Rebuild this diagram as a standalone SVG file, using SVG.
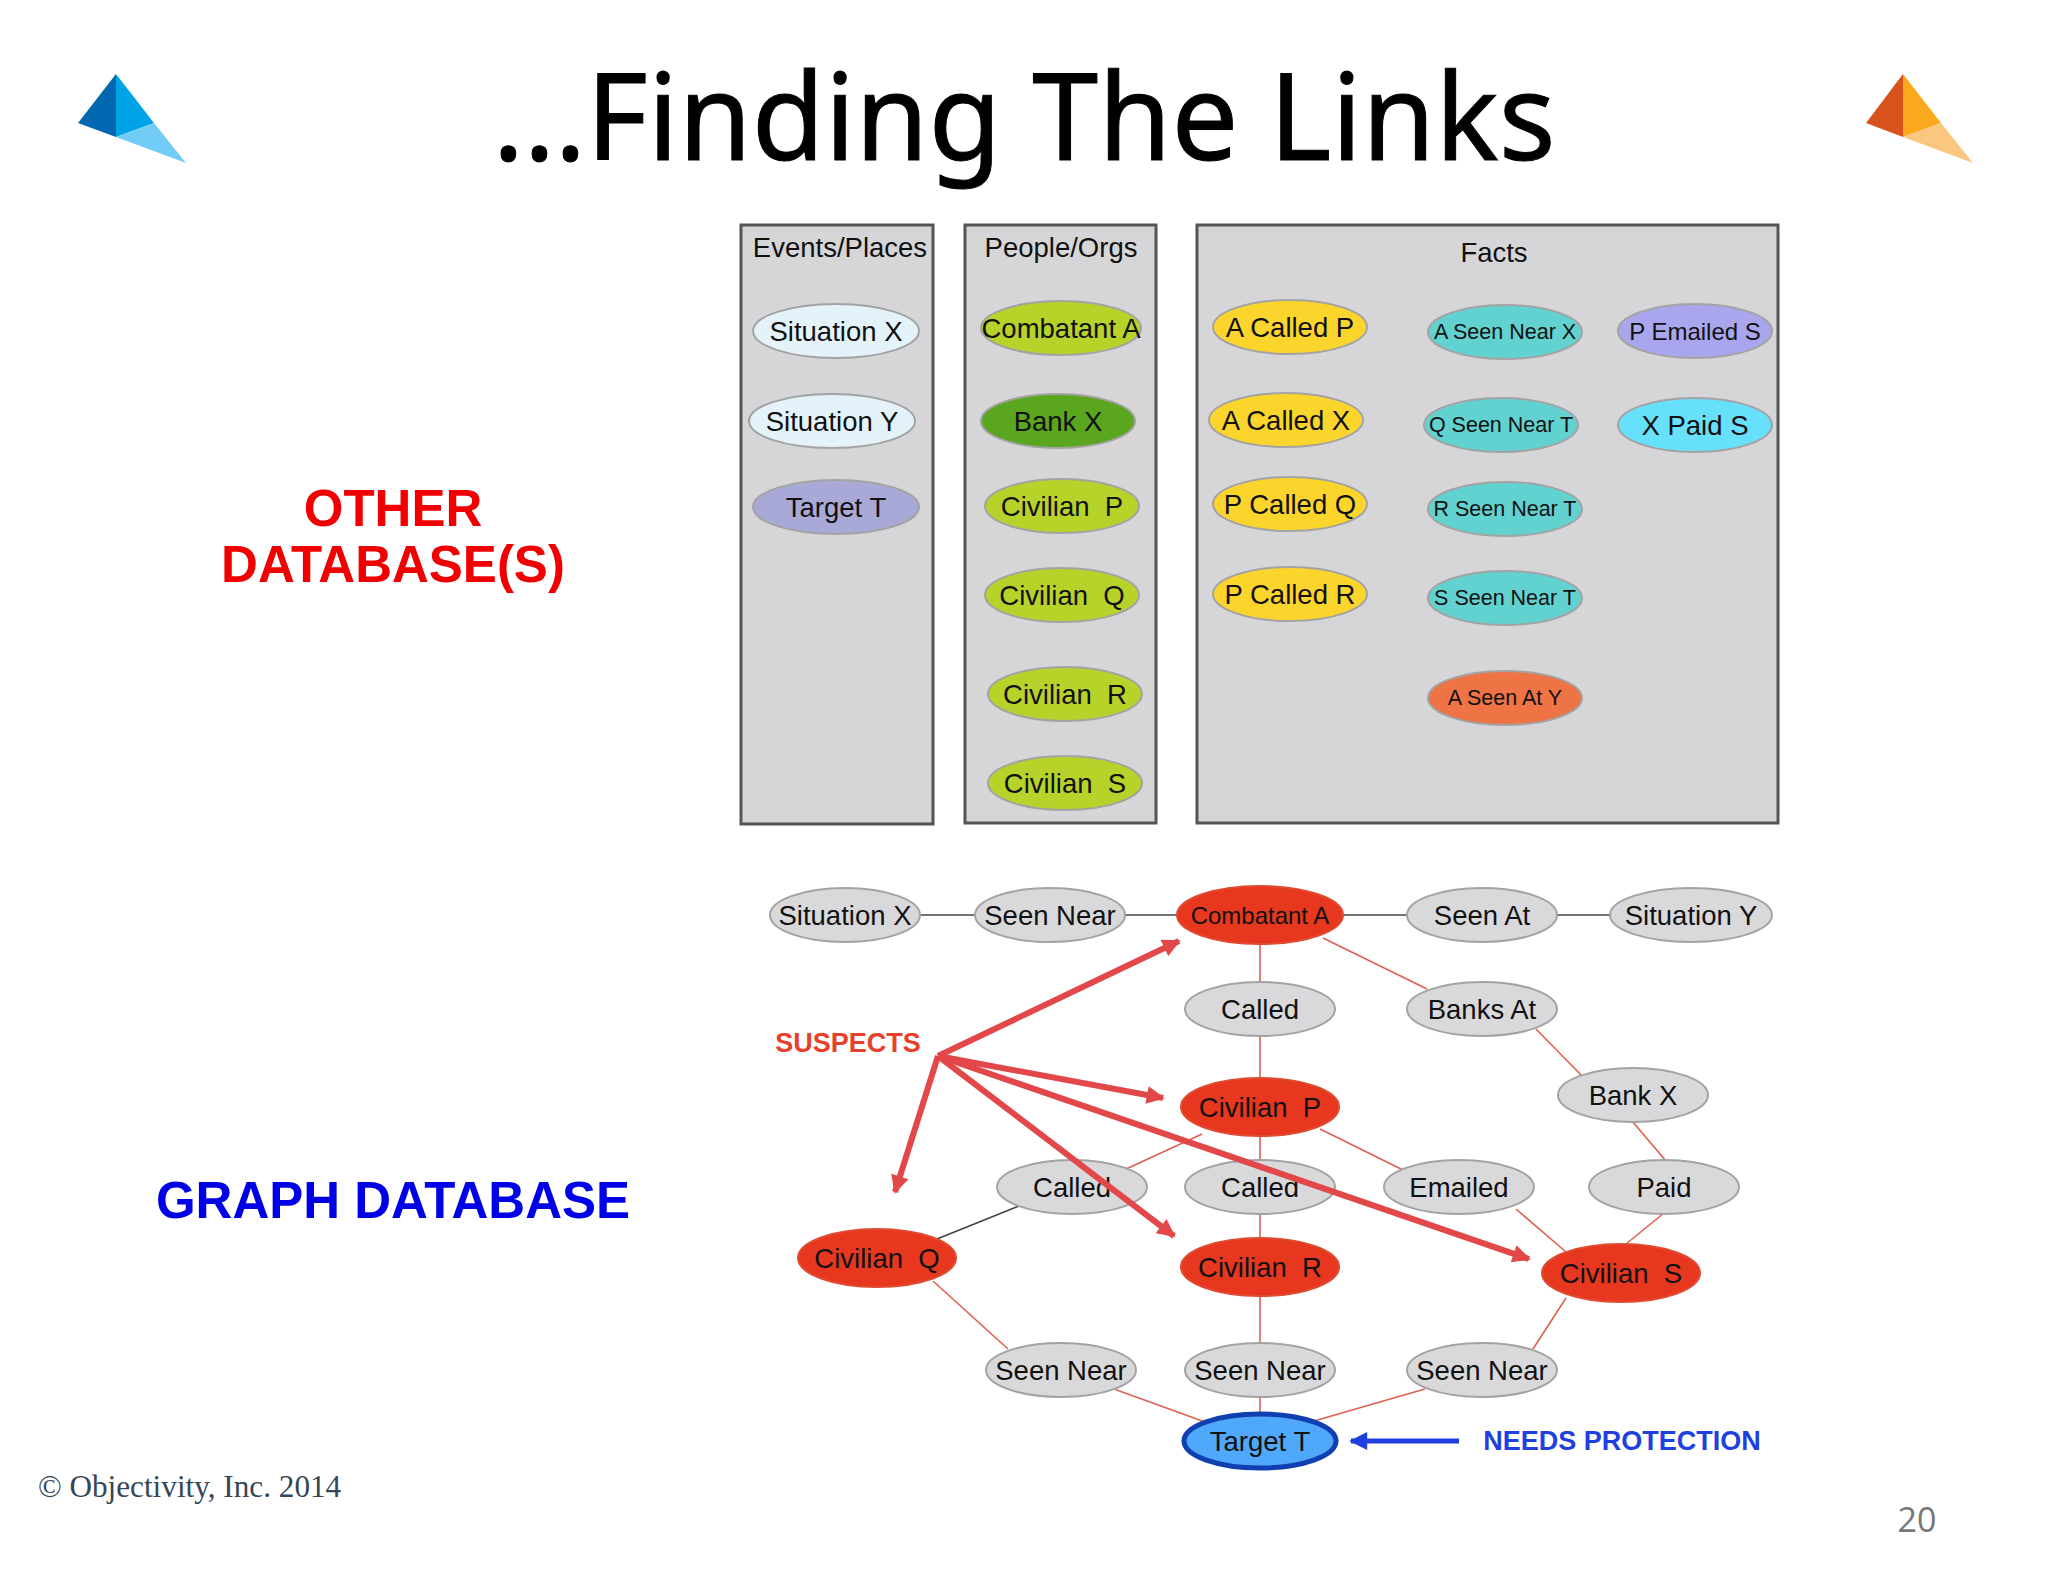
<svg xmlns="http://www.w3.org/2000/svg" width="2048" height="1582" viewBox="0 0 2048 1582">
<style>
text{font-family:"Liberation Sans",Arial,sans-serif;fill:#111;text-anchor:middle;dominant-baseline:central;white-space:pre}
.panel{fill:#d6d6d8;stroke:#555;stroke-width:3}
.n{stroke:#a3a3a3;stroke-width:2}
.t{font-size:27.5px}.s{font-size:21.5px}.m{font-size:24px}
.gray{fill:#d9d9db}.n.red{fill:#e8371f;stroke:#e04a30}.lime{fill:#b7d32a}.yel{fill:#fbd52c}.teal{fill:#62d2d0}.pale{fill:#e4f3fa}.pur{fill:#a9a9d8}
.lk{stroke:#e0604f;stroke-width:1.6;fill:none}.dk{stroke:#444;stroke-width:1.6;fill:none}
.sus{stroke:#e2474a;stroke-width:6;fill:none;marker-end:url(#ar)}
.hl{font-weight:bold;font-size:51px}
</style>
<defs>
<marker id="ar" viewBox="0 0 10 10" refX="9" refY="5" markerWidth="3.4" markerHeight="3" orient="auto"><path d="M0 0L10 5L0 10Z" fill="#e2474a"/></marker>
<marker id="ab" viewBox="0 0 10 10" refX="9" refY="5" markerWidth="4" markerHeight="3.6" orient="auto"><path d="M0 0L10 5L0 10Z" fill="#1f3fe0"/></marker>
</defs>
<rect width="2048" height="1582" fill="#fff"/>
<g id="logo-left"><path d="M116 74L78 123L116 137Z" fill="#0068b0"/><path d="M116 74L154 123L116 137Z" fill="#00a3e6"/><path d="M116 137L154 123L186 163Z" fill="#72cdf6"/></g>
<g id="logo-right"><path d="M1903 74L1866 123L1903 137Z" fill="#d8521c"/><path d="M1903 74L1941 123L1903 137Z" fill="#fba81c"/><path d="M1903 137L1941 123L1973 163Z" fill="#fbc780"/></g>
<text id="title" x="1024" y="113" font-size="120" textLength="1063" lengthAdjust="spacingAndGlyphs" style="font-family:'Noto Sans',sans-serif;fill:#000;stroke:#000;stroke-width:1">…Finding The Links</text>
<text x="393" y="508" class="hl" style="fill:#f00000">OTHER</text>
<text x="393" y="564" class="hl" style="fill:#f00000">DATABASE(S)</text>
<text x="393" y="1200" class="hl" style="fill:#0000e6">GRAPH DATABASE</text>
<text x="38" y="1486" font-size="31.2" style="font-family:'Liberation Serif',serif;text-anchor:start;fill:#34465a">© Objectivity, Inc. 2014</text>
<text x="1917" y="1519" font-size="34" style="font-family:'Open Sans',sans-serif;fill:#777">20</text>

<g id="panel-events"><rect class="panel" x="741" y="225" width="192" height="599"/><text class="t" x="840" y="247">Events/Places</text></g>
<g id="panel-people"><rect class="panel" x="965" y="225" width="191" height="598"/><text class="t" x="1061" y="247">People/Orgs</text></g>
<g id="panel-facts"><rect class="panel" x="1197" y="225" width="581" height="598"/><text class="t" x="1494" y="252">Facts</text></g>

<g id="e-sitx"><ellipse class="n pale" cx="836" cy="331" rx="83" ry="27"/><text class="t" x="836" y="331">Situation X</text></g>
<g id="e-sity"><ellipse class="n pale" cx="832" cy="421" rx="83" ry="27"/><text class="t" x="832" y="421">Situation Y</text></g>
<g id="e-target"><ellipse class="n pur" cx="836" cy="507" rx="83" ry="27"/><text class="t" x="836" y="507">Target T</text></g>
<g id="p-combatant"><ellipse class="n lime" cx="1061" cy="328" rx="80" ry="27"/><text class="t" x="1061" y="328">Combatant A</text></g>
<g id="p-bank"><ellipse class="n" fill="#5aa61e" cx="1058" cy="421" rx="77" ry="27"/><text class="t" x="1058" y="421">Bank X</text></g>
<g id="p-civp"><ellipse class="n lime" cx="1062" cy="506" rx="77" ry="27"/><text class="t" x="1062" y="506">Civilian  P</text></g>
<g id="p-civq"><ellipse class="n lime" cx="1062" cy="595" rx="77" ry="27"/><text class="t" x="1062" y="595">Civilian  Q</text></g>
<g id="p-civr"><ellipse class="n lime" cx="1065" cy="694" rx="77" ry="27"/><text class="t" x="1065" y="694">Civilian  R</text></g>
<g id="p-civs"><ellipse class="n lime" cx="1065" cy="783" rx="77" ry="27"/><text class="t" x="1065" y="783">Civilian  S</text></g>
<g id="f-acp"><ellipse class="n yel" cx="1290" cy="327" rx="77" ry="27"/><text class="t" x="1290" y="327">A Called P</text></g>
<g id="f-acx"><ellipse class="n yel" cx="1286" cy="420" rx="77" ry="27"/><text class="t" x="1286" y="420">A Called X</text></g>
<g id="f-pcq"><ellipse class="n yel" cx="1290" cy="504" rx="77" ry="27"/><text class="t" x="1290" y="504">P Called Q</text></g>
<g id="f-pcr"><ellipse class="n yel" cx="1290" cy="594" rx="77" ry="27"/><text class="t" x="1290" y="594">P Called R</text></g>
<g id="f-asx"><ellipse class="n teal" cx="1505" cy="332" rx="77" ry="27"/><text class="s" x="1505" y="332">A Seen Near X</text></g>
<g id="f-qst"><ellipse class="n teal" cx="1501" cy="425" rx="77" ry="27"/><text class="s" x="1501" y="425">Q Seen Near T</text></g>
<g id="f-rst"><ellipse class="n teal" cx="1505" cy="509" rx="77" ry="27"/><text class="s" x="1505" y="509">R Seen Near T</text></g>
<g id="f-sst"><ellipse class="n teal" cx="1505" cy="598" rx="77" ry="27"/><text class="s" x="1505" y="598">S Seen Near T</text></g>
<g id="f-asy"><ellipse class="n" fill="#ee7446" cx="1505" cy="698" rx="77" ry="27"/><text class="s" x="1505" y="698">A Seen At Y</text></g>
<g id="f-pes"><ellipse class="n" fill="#a9a6ee" cx="1695" cy="331" rx="77" ry="27"/><text class="m" x="1695" y="331">P Emailed S</text></g>
<g id="f-xps"><ellipse class="n" fill="#66e0fb" cx="1695" cy="425" rx="77" ry="27"/><text class="t" x="1695" y="425">X Paid S</text></g>

<g id="connectors">
<path class="dk" d="M845 915H1691"/>
<path class="lk" d="M1260 915V1440"/>
<path class="lk" d="M1323 938L1427 989"/>
<path class="lk" d="M1536 1029L1584 1078"/>
<path class="lk" d="M1632 1121L1666 1161"/>
<path class="lk" d="M1664 1213L1626 1244"/>
<path class="lk" d="M1516 1209L1566 1252"/>
<path class="lk" d="M1320 1129L1405 1171"/>
<path class="lk" d="M1202 1134L1124 1170"/>
<path class="dk" d="M1019 1206L937 1239"/>
<path class="lk" d="M933 1281L1008 1349"/>
<path class="lk" d="M1114 1389L1205 1422"/>
<path class="lk" d="M1566 1298L1533 1349"/>
<path class="lk" d="M1425 1389L1314 1421"/>
</g>

<g id="g-sitx"><ellipse class="n gray" cx="845" cy="915" rx="75" ry="27"/><text class="t" x="845" y="915">Situation X</text></g>
<g id="g-seen1"><ellipse class="n gray" cx="1050" cy="915" rx="75" ry="27"/><text class="t" x="1050" y="915">Seen Near</text></g>
<g id="g-combatant"><ellipse class="n red" cx="1260" cy="915" rx="83" ry="29"/><text class="m" x="1260" y="915">Combatant A</text></g>
<g id="g-seenat"><ellipse class="n gray" cx="1482" cy="915" rx="75" ry="27"/><text class="t" x="1482" y="915">Seen At</text></g>
<g id="g-sity"><ellipse class="n gray" cx="1691" cy="915" rx="81" ry="27"/><text class="t" x="1691" y="915">Situation Y</text></g>
<g id="g-called1"><ellipse class="n gray" cx="1260" cy="1009" rx="75" ry="27"/><text class="t" x="1260" y="1009">Called</text></g>
<g id="g-banksat"><ellipse class="n gray" cx="1482" cy="1009" rx="75" ry="27"/><text class="t" x="1482" y="1009">Banks At</text></g>
<g id="g-civp"><ellipse class="n red" cx="1260" cy="1107" rx="79" ry="29"/><text class="t" x="1260" y="1107">Civilian  P</text></g>
<g id="g-bankx"><ellipse class="n gray" cx="1633" cy="1095" rx="75" ry="27"/><text class="t" x="1633" y="1095">Bank X</text></g>
<g id="g-called2"><ellipse class="n gray" cx="1072" cy="1187" rx="75" ry="27"/><text class="t" x="1072" y="1187">Called</text></g>
<g id="g-called3"><ellipse class="n gray" cx="1260" cy="1187" rx="75" ry="27"/><text class="t" x="1260" y="1187">Called</text></g>
<g id="g-emailed"><ellipse class="n gray" cx="1459" cy="1187" rx="75" ry="27"/><text class="t" x="1459" y="1187">Emailed</text></g>
<g id="g-paid"><ellipse class="n gray" cx="1664" cy="1187" rx="75" ry="27"/><text class="t" x="1664" y="1187">Paid</text></g>
<g id="g-civq"><ellipse class="n red" cx="877" cy="1258" rx="79" ry="29"/><text class="t" x="877" y="1258">Civilian  Q</text></g>
<g id="g-civr"><ellipse class="n red" cx="1260" cy="1267" rx="79" ry="29"/><text class="t" x="1260" y="1267">Civilian  R</text></g>
<g id="g-civs"><ellipse class="n red" cx="1621" cy="1273" rx="79" ry="29"/><text class="t" x="1621" y="1273">Civilian  S</text></g>
<g id="g-seen2"><ellipse class="n gray" cx="1061" cy="1370" rx="75" ry="27"/><text class="t" x="1061" y="1370">Seen Near</text></g>
<g id="g-seen3"><ellipse class="n gray" cx="1260" cy="1370" rx="75" ry="27"/><text class="t" x="1260" y="1370">Seen Near</text></g>
<g id="g-seen4"><ellipse class="n gray" cx="1482" cy="1370" rx="75" ry="27"/><text class="t" x="1482" y="1370">Seen Near</text></g>
<g id="g-target"><ellipse cx="1260" cy="1441" rx="76" ry="27" fill="#4fa8fa" stroke="#0f3fb0" stroke-width="5"/><text class="t" x="1260" y="1441">Target T</text></g>

<g id="callout-arrows">
<path class="sus" d="M938 1056L1179 941"/>
<path class="sus" d="M938 1056L1163 1098"/>
<path class="sus" d="M938 1056L1174 1236"/>
<path class="sus" d="M938 1056L1529 1259"/>
<path class="sus" d="M938 1056L895 1192"/>
<path d="M1459 1441H1351" stroke="#1f3fe0" stroke-width="5" fill="none" marker-end="url(#ab)"/>
</g>
<text x="848" y="1043" font-size="27" font-weight="bold" style="fill:#e8402a">SUSPECTS</text>
<text x="1622" y="1441" font-size="27" font-weight="bold" style="fill:#1f3fe0">NEEDS PROTECTION</text>
</svg>
